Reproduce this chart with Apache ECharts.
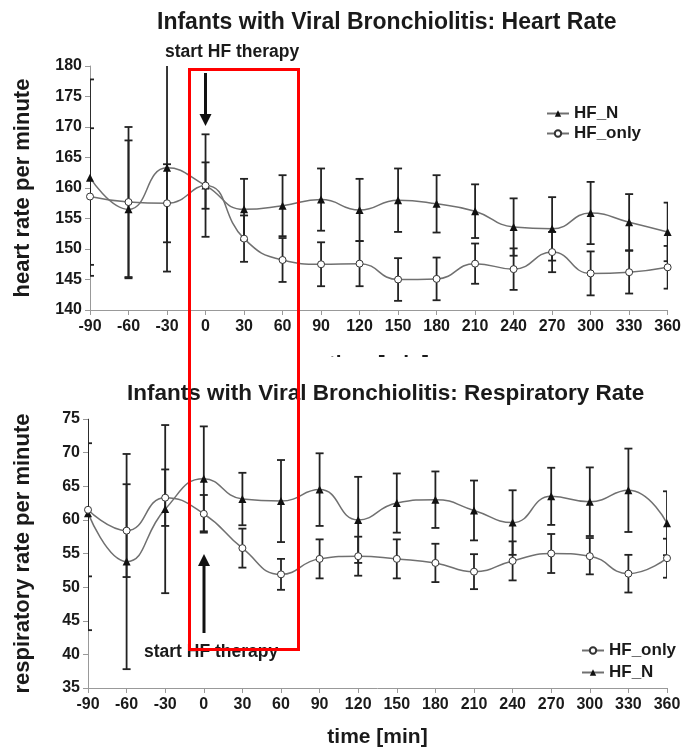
<!DOCTYPE html>
<html>
<head>
<meta charset="utf-8">
<script src="https://cdn.jsdelivr.net/npm/echarts@6/dist/echarts.min.js"></script>
<style>html,body{margin:0;padding:0;background:#fff}#c{width:684px;height:749px}</style>
</head>
<body>
<div id="c"></div>
<script>
// ---- data ----
var times = [-90,-60,-30,0,30,60,90,120,150,180,210,240,270,300,330,360];
var hrN       = [161.7,156.5,163.3,160.4,156.5,157.1,158.1,156.4,158.0,157.4,156.2,153.6,153.3,155.9,154.4,152.8];
var hrNErr    = [16.1,11.3,17.0,8.4,5.0,5.0,5.1,5.1,5.2,4.7,4.4,4.7,5.2,5.1,4.6,4.8];
var hrOnly    = [158.6,157.7,157.5,160.4,151.7,148.2,147.5,147.6,145.0,145.1,147.6,146.7,149.5,146.0,146.2,147.0];
var hrOnlyErr = [11.2,12.3,6.4,3.8,3.8,3.6,3.6,3.7,3.5,3.5,3.3,3.4,3.3,3.6,3.5,3.5];
var rrN       = [61.0,53.8,61.6,66.1,63.1,62.8,64.5,60.0,62.5,63.0,61.4,59.6,63.5,62.7,64.4,59.5];
var rrNErr    = [17.4,16.0,12.5,7.8,3.9,6.1,5.4,6.4,4.4,4.2,4.45,4.8,4.25,5.1,6.2,4.75];
var rrOnly    = [61.5,58.4,63.3,60.9,55.8,51.9,54.2,54.6,54.2,53.6,52.3,53.9,55.0,54.6,52.0,54.3];
var rrOnlyErr = [9.9,6.9,4.2,2.8,2.9,2.3,2.9,2.9,2.9,2.85,2.6,2.9,2.9,2.7,2.8,2.9];
var hrTicks = {min:140, max:180, interval:5};
var rrTicks = {min:35, max:75, interval:5};
var xTicks = {min:-90, max:360, interval:30};

var FONT = '"Liberation Sans", Arial, Helvetica, sans-serif';
var TXT = '#1a1a1a';
var LINE = '#707070';

function pairs(vals){ return times.map(function(t,i){ return [t, vals[i]]; }); }
function errData(vals, errs){ return times.map(function(t,i){ return [t, vals[i]-errs[i], vals[i]+errs[i]]; }); }

function errSeries(name, vals, errs, idx){
  return {
    type:'custom', name: name+'_err', xAxisIndex: idx, yAxisIndex: idx, clip: true, silent: true, z: 3,
    data: errData(vals, errs),
    renderItem: function(params, api){
      var lo = api.coord([api.value(0), api.value(1)]);
      var hi = api.coord([api.value(0), api.value(2)]);
      var w = 4;
      var st = {stroke:'#222', lineWidth:1.8};
      return {type:'group', children:[
        {type:'line', shape:{x1:lo[0],y1:lo[1],x2:hi[0],y2:hi[1]}, style:st},
        {type:'line', shape:{x1:lo[0]-w,y1:lo[1],x2:lo[0]+w,y2:lo[1]}, style:st},
        {type:'line', shape:{x1:hi[0]-w,y1:hi[1],x2:hi[0]+w,y2:hi[1]}, style:st}
      ]};
    }
  };
}
function lineN(vals, idx){
  return {type:'line', name:'HF_N', xAxisIndex:idx, yAxisIndex:idx, data:pairs(vals), smooth:0.5, z:4,
    symbol:'triangle', symbolSize:8, lineStyle:{color:LINE, width:1.5},
    itemStyle:{color:'#111', borderColor:'#111', borderWidth:0}};
}
function lineOnly(vals, idx){
  return {type:'line', name:'HF_only', xAxisIndex:idx, yAxisIndex:idx, data:pairs(vals), smooth:0.5, z:4,
    symbol:'circle', symbolSize:7, lineStyle:{color:LINE, width:1.5},
    itemStyle:{color:'#fff', borderColor:'#333', borderWidth:1}};
}
function xAx(idx, gap){
  return {type:'value', gridIndex:idx, min:xTicks.min, max:xTicks.max, interval:xTicks.interval,
    name:'time [min]', nameLocation:'middle', nameGap:gap,
    nameTextStyle:{fontFamily:FONT, fontWeight:'bold', fontSize:21, color:TXT, verticalAlign:'top'},
    axisLine:{onZero:false, lineStyle:{color:'#999', width:1}}, axisTick:{show:true, length:5, lineStyle:{color:'#999'}},
    splitLine:{show:false},
    axisLabel:{fontFamily:FONT, fontWeight:'bold', fontSize:16, color:TXT, margin:9}};
}
function yAx(idx, t, name, gap){
  return {type:'value', gridIndex:idx, min:t.min, max:t.max, interval:t.interval,
    name:name, nameLocation:'middle', nameGap:gap, nameRotate:90,
    nameTextStyle:{fontFamily:FONT, fontWeight:'bold', fontSize:22, color:TXT},
    axisLine:{show:true, onZero:false, lineStyle:{color:'#999', width:1}}, axisTick:{show:true, length:5, lineStyle:{color:'#999'}},
    splitLine:{show:false},
    axisLabel:{fontFamily:FONT, fontWeight:'bold', fontSize:16, color:TXT, margin:8}};
}

var chart = echarts.init(document.getElementById('c'), null, {renderer:'canvas'});
var legendText = {fontFamily:FONT, fontWeight:'bold', fontSize:17, color:TXT, lineHeight:17};
chart.setOption({
  animation:false,
  backgroundColor:'#fff',
  title:[
    {text:'Infants with Viral Bronchiolitis: Heart Rate', left:152, top:6,
     textStyle:{fontFamily:FONT, fontWeight:'bold', fontSize:23, color:TXT}},
    {text:'Infants with Viral Bronchiolitis: Respiratory Rate', left:122, top:377,
     textStyle:{fontFamily:FONT, fontWeight:'bold', fontSize:22.5, color:TXT}}
  ],
  legend:[
    {data:['HF_N','HF_only'], orient:'vertical', left:541, top:100, itemWidth:22, itemHeight:8, itemGap:3,
     textStyle:legendText, selectedMode:false},
    {data:['HF_only','HF_N'], orient:'vertical', left:576, top:637, itemWidth:22, itemHeight:8, itemGap:5,
     textStyle:legendText, selectedMode:false}
  ],
  grid:[
    {left:90, right:16, top:66, height:244},
    {left:88, right:17, top:419, height:269}
  ],
  xAxis:[xAx(0,44), xAx(1,39)],
  yAxis:[yAx(0,hrTicks,'heart rate per minute',56), yAx(1,rrTicks,'respiratory rate per minute',54)],
  series:[
    errSeries('HF_N', hrN, hrNErr, 0),
    errSeries('HF_only', hrOnly, hrOnlyErr, 0),
    lineN(hrN,0), lineOnly(hrOnly,0),
    errSeries('HF_N', rrN, rrNErr, 1),
    errSeries('HF_only', rrOnly, rrOnlyErr, 1),
    lineN(rrN,1), lineOnly(rrOnly,1)
  ],
  graphic:[
    // mask cropping the top "time [min]" label
    {type:'rect', z:50, shape:{x:250, y:357, width:300, height:18}, style:{fill:'#fff'}},
    // annotations
    {type:'text', z:60, left:165, top:43, style:{text:'start HF therapy', fontFamily:FONT, fontWeight:'bold', fontSize:17.5, fill:TXT}},
    {type:'line', z:60, shape:{x1:205.5,y1:73,x2:205.5,y2:116}, style:{stroke:'#111', lineWidth:3}},
    {type:'polygon', z:60, shape:{points:[[199.5,114],[211.5,114],[205.5,126]]}, style:{fill:'#111'}},
    {type:'text', z:60, left:144, top:643, style:{text:'start HF therapy', fontFamily:FONT, fontWeight:'bold', fontSize:17.5, fill:TXT}},
    {type:'line', z:60, shape:{x1:204,y1:633,x2:204,y2:564}, style:{stroke:'#111', lineWidth:3}},
    {type:'polygon', z:60, shape:{points:[[198,566],[210,566],[204,554]]}, style:{fill:'#111'}},
    // red highlight box
    {type:'rect', z:70, shape:{x:189.5, y:69.5, width:109, height:580}, style:{fill:'none', stroke:'#ff0000', lineWidth:3}}
  ]
});
</script>
</body>
</html>
